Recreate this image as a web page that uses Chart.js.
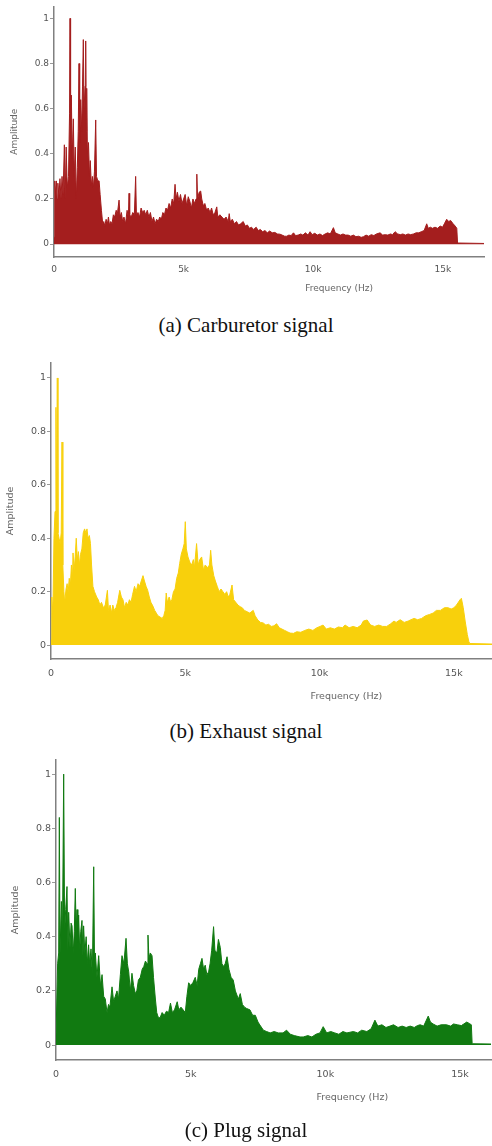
<!DOCTYPE html>
<html>
<head>
<meta charset="utf-8">
<script src="https://cdn.jsdelivr.net/npm/chart.js@4/dist/chart.umd.min.js"></script>
<style>
  html, body { margin: 0; padding: 0; background: #fff; }
  body { width: 492px; height: 1146px; position: relative; overflow: hidden; }
  canvas { position: absolute; left: 0; }
  .cap { position: absolute; left: 0; width: 492px; text-align: center;
         font-family: "Liberation Serif", "Times New Roman", serif; font-size: 21px;
         line-height: 21px; color: #111; }
</style>
</head>
<body>
<canvas id="ca" width="492" height="300" style="top:0px"></canvas>
<div class="cap" style="top:315px">(a) Carburetor signal</div>
<canvas id="cb" width="492" height="370" style="top:345px"></canvas>
<div class="cap" style="top:721px">(b) Exhaust signal</div>
<canvas id="cc" width="492" height="375" style="top:745px"></canvas>
<div class="cap" style="top:1120px">(c) Plug signal</div>
<script>
// ---- data: [frequency Hz, amplitude] ----
const carburetor = [[0,0.03],[30,0.28],[60,0.22],[90,0.28],[120,0.2],[150,0.27],[190,0.21],[230,0.29],[270,0.2],[310,0.3],[350,0.22],[400,0.44],[430,0.2],[470,0.43],[510,0.25],[560,0.3],[600,0.58],[618,1.0],[640,0.45],[670,0.66],[700,0.38],[746,0.555],[780,0.3],[820,0.43],[860,0.2],[900,0.34],[935,0.5],[965,0.8],[990,0.45],[1030,0.64],[1070,0.5],[1100,0.7],[1131,0.906],[1160,0.6],[1200,0.7],[1223,0.9],[1245,0.5],[1262,0.69],[1290,0.4],[1330,0.45],[1370,0.3],[1400,0.37],[1440,0.26],[1480,0.3],[1520,0.25],[1560,0.32],[1609,0.55],[1640,0.3],[1690,0.28],[1740,0.28],[1780,0.22],[1830,0.15],[1880,0.09],[1920,0.1],[1960,0.08],[2010,0.11],[2060,0.09],[2100,0.12],[2140,0.085],[2190,0.1],[2240,0.09],[2290,0.13],[2340,0.12],[2400,0.15],[2440,0.13],[2510,0.195],[2550,0.12],[2600,0.14],[2650,0.1],[2700,0.12],[2760,0.09],[2820,0.15],[2870,0.12],[2895,0.225],[2920,0.13],[2980,0.12],[3040,0.14],[3100,0.13],[3150,0.30],[3180,0.13],[3240,0.14],[3300,0.12],[3360,0.16],[3420,0.14],[3480,0.15],[3540,0.13],[3600,0.15],[3660,0.12],[3720,0.14],[3780,0.1],[3840,0.12],[3900,0.09],[3960,0.11],[4020,0.1],[4080,0.12],[4140,0.11],[4200,0.14],[4260,0.13],[4320,0.16],[4380,0.15],[4440,0.18],[4500,0.16],[4560,0.2],[4620,0.18],[4670,0.265],[4710,0.2],[4760,0.23],[4820,0.19],[4880,0.22],[4940,0.18],[5000,0.2],[5060,0.22],[5120,0.17],[5180,0.21],[5240,0.19],[5300,0.16],[5360,0.2],[5420,0.18],[5480,0.2],[5510,0.31],[5540,0.2],[5600,0.23],[5660,0.235],[5700,0.2],[5760,0.17],[5820,0.18],[5890,0.15],[5950,0.16],[6020,0.14],[6080,0.16],[6140,0.13],[6210,0.14],[6280,0.165],[6320,0.12],[6400,0.13],[6480,0.12],[6560,0.11],[6640,0.12],[6720,0.1],[6760,0.135],[6800,0.1],[6880,0.11],[6960,0.09],[7040,0.1],[7120,0.085],[7200,0.09],[7300,0.1],[7380,0.08],[7460,0.085],[7540,0.07],[7620,0.075],[7700,0.065],[7800,0.075],[7880,0.06],[7960,0.065],[8050,0.055],[8140,0.06],[8230,0.05],[8320,0.058],[8420,0.05],[8520,0.052],[8620,0.045],[8720,0.044],[8800,0.04],[8900,0.035],[8980,0.035],[9060,0.04],[9150,0.038],[9240,0.05],[9320,0.038],[9420,0.04],[9520,0.045],[9600,0.04],[9700,0.05],[9800,0.04],[9880,0.055],[9960,0.042],[10060,0.048],[10160,0.04],[10260,0.045],[10360,0.038],[10460,0.045],[10560,0.05],[10660,0.045],[10780,0.073],[10850,0.05],[10950,0.045],[11050,0.04],[11150,0.045],[11250,0.04],[11350,0.04],[11450,0.035],[11550,0.04],[11650,0.033],[11750,0.035],[11850,0.03],[11940,0.033],[12040,0.04],[12140,0.035],[12240,0.042],[12340,0.038],[12440,0.045],[12580,0.05],[12680,0.04],[12780,0.042],[12880,0.04],[12980,0.045],[13060,0.042],[13160,0.055],[13260,0.045],[13360,0.042],[13460,0.045],[13560,0.04],[13660,0.045],[13760,0.042],[13870,0.045],[13970,0.05],[14070,0.05],[14170,0.055],[14280,0.06],[14380,0.09],[14440,0.07],[14520,0.075],[14600,0.07],[14700,0.075],[14800,0.07],[14900,0.08],[14990,0.075],[15060,0.09],[15150,0.11],[15230,0.1],[15300,0.105],[15400,0.09],[15480,0.08],[15540,0.07],[15570,0.005],[16600,0.003]];

const exhaust = [[0,0.02],[30,0.18],[70,0.12],[110,0.4],[150,0.5],[185,0.89],[205,0.45],[235,1.0],[260,0.42],[300,0.4],[340,0.38],[380,0.42],[410,0.76],[440,0.3],[480,0.2],[510,0.16],[560,0.21],[600,0.23],[640,0.2],[680,0.25],[720,0.22],[760,0.3],[800,0.25],[820,0.345],[860,0.28],[900,0.33],[940,0.4],[980,0.32],[1020,0.35],[1060,0.3],[1100,0.34],[1150,0.36],[1200,0.42],[1250,0.435],[1300,0.42],[1340,0.435],[1380,0.4],[1430,0.41],[1470,0.38],[1510,0.3],[1560,0.22],[1620,0.2],[1700,0.18],[1760,0.17],[1820,0.15],[1880,0.16],[1950,0.14],[2020,0.15],[2100,0.205],[2140,0.13],[2200,0.15],[2260,0.12],[2300,0.15],[2360,0.13],[2420,0.14],[2480,0.16],[2560,0.205],[2620,0.18],[2680,0.17],[2740,0.14],[2800,0.16],[2860,0.15],[2920,0.17],[2980,0.16],[3040,0.19],[3110,0.22],[3170,0.2],[3240,0.23],[3300,0.22],[3360,0.24],[3425,0.26],[3480,0.24],[3540,0.22],[3600,0.205],[3660,0.18],[3720,0.16],[3800,0.145],[3860,0.13],[3920,0.12],[3980,0.11],[4060,0.105],[4140,0.1],[4200,0.11],[4250,0.13],[4290,0.195],[4330,0.16],[4400,0.18],[4460,0.16],[4500,0.17],[4560,0.2],[4620,0.21],[4680,0.25],[4740,0.27],[4790,0.305],[4850,0.34],[4910,0.36],[4960,0.38],[5000,0.462],[5040,0.36],[5100,0.33],[5170,0.31],[5240,0.3],[5300,0.32],[5340,0.29],[5420,0.38],[5480,0.3],[5540,0.32],[5610,0.33],[5680,0.28],[5740,0.3],[5830,0.29],[5900,0.3],[5945,0.355],[5990,0.3],[6060,0.26],[6120,0.24],[6190,0.22],[6260,0.2],[6330,0.21],[6400,0.2],[6470,0.19],[6540,0.2],[6600,0.18],[6660,0.19],[6740,0.225],[6800,0.17],[6880,0.16],[6960,0.15],[7040,0.144],[7120,0.14],[7200,0.13],[7300,0.125],[7400,0.12],[7530,0.13],[7600,0.11],[7700,0.094],[7800,0.085],[7900,0.083],[8000,0.075],[8100,0.078],[8200,0.07],[8300,0.072],[8400,0.08],[8500,0.065],[8600,0.06],[8700,0.055],[8800,0.05],[8900,0.045],[9030,0.044],[9150,0.05],[9300,0.048],[9450,0.055],[9600,0.06],[9750,0.055],[9900,0.065],[10020,0.07],[10130,0.075],[10250,0.06],[10400,0.065],[10550,0.06],[10700,0.068],[10850,0.065],[10950,0.075],[11100,0.065],[11250,0.07],[11400,0.065],[11550,0.075],[11630,0.09],[11770,0.094],[11900,0.075],[12050,0.07],[12200,0.075],[12350,0.07],[12500,0.07],[12650,0.08],[12770,0.09],[12850,0.085],[13000,0.095],[13150,0.085],[13300,0.09],[13400,0.095],[13520,0.1],[13650,0.095],[13800,0.1],[13950,0.11],[14100,0.115],[14230,0.12],[14350,0.13],[14500,0.13],[14650,0.14],[14780,0.14],[14900,0.135],[15000,0.14],[15100,0.15],[15230,0.17],[15280,0.175],[15350,0.14],[15420,0.09],[15500,0.04],[15560,0.012],[15600,0.006],[16420,0.004]];

const plug = [[0,0.03],[37,0.03],[60,0.3],[100,0.34],[124,0.84],[150,0.34],[200,0.53],[240,0.4],[285,1.0],[320,0.42],[360,0.5],[408,0.585],[440,0.35],[470,0.49],[520,0.36],[560,0.45],[595,0.44],[640,0.34],[680,0.42],[717,0.578],[750,0.42],[780,0.5],[810,0.38],[840,0.48],[880,0.35],[920,0.42],[965,0.46],[1000,0.33],[1025,0.44],[1070,0.34],[1120,0.4],[1160,0.3],[1210,0.37],[1250,0.3],[1300,0.355],[1350,0.26],[1400,0.658],[1430,0.3],[1460,0.34],[1520,0.25],[1585,0.33],[1650,0.22],[1710,0.26],[1770,0.18],[1830,0.17],[1895,0.12],[1950,0.15],[2000,0.14],[2080,0.215],[2140,0.16],[2200,0.18],[2265,0.2],[2320,0.17],[2390,0.26],[2450,0.33],[2520,0.3],[2600,0.394],[2650,0.3],[2700,0.27],[2760,0.2],[2820,0.265],[2880,0.22],[2945,0.19],[3000,0.2],[3060,0.24],[3130,0.25],[3200,0.28],[3260,0.29],[3320,0.31],[3380,0.3],[3415,0.406],[3450,0.32],[3500,0.34],[3565,0.33],[3620,0.25],[3690,0.17],[3740,0.12],[3790,0.104],[3860,0.1],[3940,0.12],[4020,0.11],[4100,0.125],[4180,0.12],[4250,0.155],[4320,0.12],[4400,0.13],[4500,0.16],[4560,0.13],[4640,0.14],[4720,0.13],[4800,0.12],[4860,0.18],[4925,0.23],[5000,0.22],[5080,0.23],[5170,0.25],[5240,0.22],[5300,0.28],[5360,0.3],[5420,0.32],[5480,0.28],[5540,0.295],[5600,0.26],[5665,0.27],[5720,0.3],[5780,0.35],[5850,0.437],[5900,0.35],[5975,0.34],[6030,0.39],[6100,0.36],[6160,0.3],[6225,0.29],[6280,0.3],[6350,0.326],[6420,0.28],[6500,0.25],[6580,0.24],[6660,0.2],[6770,0.17],[6840,0.19],[6920,0.15],[7000,0.14],[7080,0.135],[7200,0.13],[7300,0.11],[7400,0.11],[7500,0.085],[7570,0.074],[7700,0.055],[7820,0.05],[7950,0.045],[8100,0.05],[8250,0.045],[8430,0.045],[8560,0.055],[8700,0.04],[8850,0.035],[9060,0.03],[9180,0.03],[9350,0.035],[9500,0.03],[9650,0.04],[9800,0.045],[9920,0.068],[10050,0.045],[10200,0.05],[10350,0.045],[10500,0.04],[10650,0.05],[10800,0.045],[11040,0.05],[11200,0.045],[11350,0.055],[11540,0.05],[11700,0.06],[11840,0.092],[11950,0.07],[12100,0.075],[12250,0.065],[12400,0.07],[12530,0.075],[12700,0.065],[12850,0.07],[13000,0.065],[13150,0.07],[13300,0.065],[13420,0.072],[13520,0.075],[13650,0.07],[13820,0.107],[13900,0.085],[14000,0.078],[14150,0.07],[14300,0.075],[14500,0.075],[14650,0.07],[14760,0.078],[14900,0.075],[15050,0.072],[15250,0.085],[15340,0.08],[15420,0.075],[15450,0.005],[16150,0.004]];

const xTicks = [0, 5000, 10000, 15000];
const xTickLabels = ['0', '5k', '10k', '15k'];
const yTicks = [0, 0.2, 0.4, 0.6, 0.8, 1];
const yTickLabels = ['0', '0.2', '0.4', '0.6', '0.8', '1'];
const xTitle = 'Frequency (Hz)';
const yTitle = 'Amplitude';

// ---- panel styling / layout ----
const panels = [
  { id: 'ca', data: carburetor, color: '#a41e1e', xMax: 16590, yMin: -0.057, yMax: 1.053,
    H: 300, top: 5, bottom: 257, left: 54, right: 484, yTitleX: 14.5, xTitleDy: 32, xLabPad: 3, font: 9 },
  { id: 'cb', data: exhaust, color: '#f8d00c', xMax: 16420, yMin: -0.052, yMax: 1.056,
    H: 370, top: 18, bottom: 314, left: 51, right: 492, yTitleX: 11, xTitleDy: 38, xLabPad: 5, font: 9.5 },
  { id: 'cc', data: plug, color: '#117a11', xMax: 16150, yMin: -0.055, yMax: 1.052,
    H: 375, top: 15, bottom: 315, left: 56, right: 491, yTitleX: 16, xTitleDy: 38, xLabPad: 5, font: 9.5 }
];

const titlePlugin = {
  id: 'axisTitles',
  afterDraw(chart, args, opts) {
    const ctx = chart.ctx, ca = chart.chartArea;
    ctx.save();
    ctx.fillStyle = '#666';
    ctx.font = opts.font + 'px "DejaVu Sans", Verdana, sans-serif';
    ctx.textAlign = 'center';
    ctx.textBaseline = 'middle';
    const fx = chart.scales.x.getPixelForValue(11000);
    ctx.fillText(xTitle, fx, ca.bottom + opts.xTitleDy);
    ctx.translate(opts.yTitleX, (ca.top + ca.bottom) / 2);
    ctx.rotate(-Math.PI / 2);
    ctx.fillText(yTitle, 0, 0);
    ctx.restore();
  }
};

panels.forEach(p => {
  new Chart(document.getElementById(p.id), {
    type: 'line',
    data: {
      datasets: [{
        data: p.data.map(d => ({ x: d[0], y: d[1] })),
        borderColor: p.color,
        backgroundColor: p.color,
        borderWidth: 1,
        pointRadius: 0,
        tension: 0,
        fill: 'origin'
      }]
    },
    options: {
      responsive: false,
      animation: false,
      devicePixelRatio: 1,
      layout: { padding: { top: p.top, right: 492 - p.right, left: 0, bottom: 0 } },
      plugins: {
        legend: { display: false },
        tooltip: { enabled: false },
        axisTitles: { font: p.font, yTitleX: p.yTitleX, xTitleDy: p.xTitleDy }
      },
      scales: {
        x: {
          type: 'linear', min: 0, max: p.xMax,
          afterBuildTicks: s => { s.ticks = xTicks.map(v => ({ value: v })); },
          afterFit: s => { s.height = p.H - p.bottom; },
          ticks: {
            callback: (v) => xTickLabels[xTicks.indexOf(v)],
            color: '#555', padding: p.xLabPad, maxRotation: 0,
            font: { family: '"DejaVu Sans", Verdana, sans-serif', size: p.font }
          },
          grid: { display: true, drawOnChartArea: false, drawTicks: true, tickLength: 4, color: 'rgba(0,0,0,0)' },
          border: { display: true, color: '#808080', width: 1.5 }
        },
        y: {
          type: 'linear', min: p.yMin, max: p.yMax,
          afterBuildTicks: s => { s.ticks = yTicks.map(v => ({ value: v })); },
          afterFit: s => { s.width = p.left; },
          ticks: {
            callback: (v) => yTickLabels[yTicks.indexOf(v)],
            color: '#555', padding: 1,
            font: { family: '"DejaVu Sans", Verdana, sans-serif', size: p.font }
          },
          grid: { display: true, drawOnChartArea: false, drawTicks: true, tickLength: 4, color: '#999' },
          border: { display: true, color: '#808080', width: 1.5 }
        }
      }
    },
    plugins: [titlePlugin]
  });
});
</script>
</body>
</html>
